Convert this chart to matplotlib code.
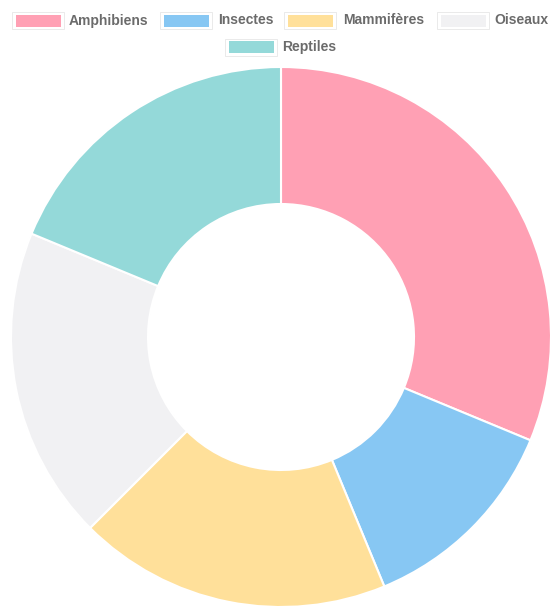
import matplotlib
matplotlib.use("Agg")
import matplotlib.pyplot as plt
from matplotlib.patches import Rectangle

categories = ["Amphibiens", "Insectes", "Mammifères", "Oiseaux", "Reptiles"]
values = [5, 2, 3, 3, 3]
colors = ["#FFA0B4", "#87C7F3", "#FFE09A", "#F1F1F3", "#94D9D9"]

W, H = 557, 607
fig = plt.figure(figsize=(W / 100, H / 100), dpi=100)
ax = fig.add_axes([0, 0, 1, 1])
ax.pie(values, colors=colors, startangle=90, counterclock=False,
       center=(281, H - 337), radius=270, frame=True,
       wedgeprops=dict(width=137, edgecolor="white", linewidth=1.5))
ax.set_xlim(0, W)
ax.set_ylim(0, H)
ax.set_aspect("equal")
ax.axis("off")

# legend (pixel coordinates, y from top)
items = [
    (12, 20.5, 69, 0), (160, 20.5, 218, 1), (284, 20.5, 343, 2),
    (437, 20.5, 494, 3), (225, 47, 282, 4),
]
for x, yc, tx, i in items:
    ax.add_patch(Rectangle((x, H - yc - 8.5), 52, 17, facecolor="white",
                           edgecolor="#E6E6E6", linewidth=0.6))
    ax.add_patch(Rectangle((x + 3.5, H - yc - 6), 45, 12, facecolor=colors[i],
                           edgecolor="none"))
    ax.text(tx, H - yc, categories[i], fontsize=10, fontweight="bold",
            color="#6B6B6B", family="Liberation Sans", va="center", ha="left")

fig.savefig("out.png", dpi=100)
